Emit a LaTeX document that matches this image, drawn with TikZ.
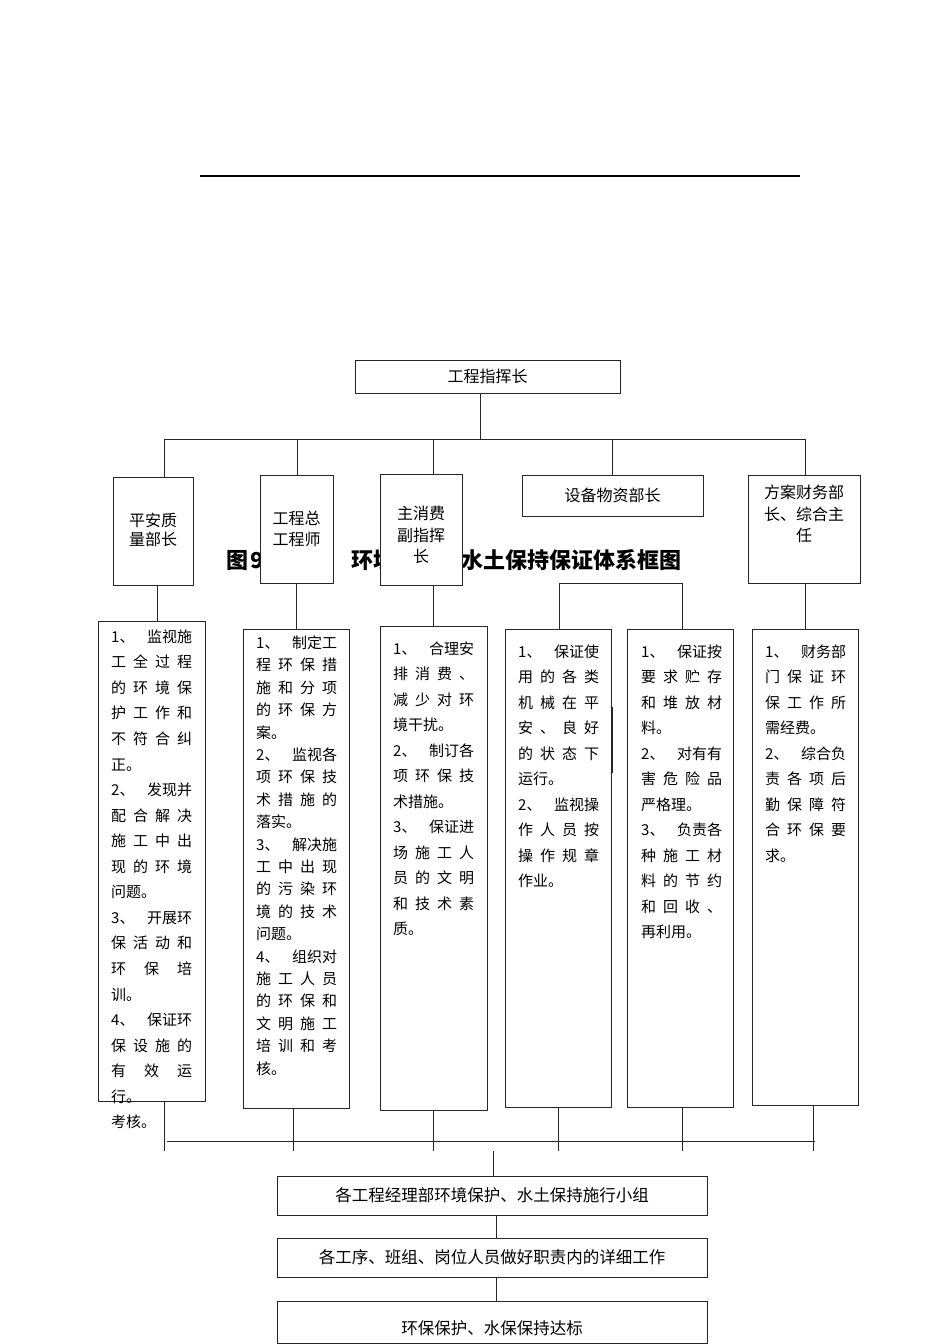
\documentclass[tikz,border=0pt]{standalone}
\usepackage{fontspec}
\setmainfont{Noto Sans CJK SC}
\usetikzlibrary{positioning,calc}
\newlength\colw
\setlength\colw{81pt}
\makeatletter
\def\spreadline#1{\makebox[\colw][l]{\spr@first#1\relax}}
\def\spr@first#1{#1\spr@rest}
\def\spr@rest#1{\ifx#1\relax\else\hfill#1\expandafter\spr@rest\fi}
\makeatother
\newcommand\numline[2]{\makebox[\colw][l]{#1\hfill#2}}
\tikzset{
  unit/.style={draw=black!85,line width=.8pt,fill=white,inner sep=0pt,outer sep=0pt,
    anchor=north west,align=center,font=\fontsize{16}{20.5}\selectfont},
  duty/.style={unit},
  dutytext/.style={anchor=north west,inner sep=0pt,text width=\colw,align=left},
  unittext/.style={align=center,inner sep=0pt,font=\fontsize{16}{21.5}\selectfont},
  link/.style={black!85,line width=.8pt},
  title/.style={font=\fontsize{22}{26}\selectfont\bfseries,inner sep=0pt}
}
\begin{document}
\begin{tikzpicture}[x=1pt,y=-1pt]
  \fill[white] (0,0) rectangle (950,1344);
  \useasboundingbox (0,0) rectangle (950,1344);
  \draw[line width=1.6pt] (200,176) -- (800,176);
  % title, partly hidden by the boxes
  \node[title,anchor=west] (ttl) at (226,560)
    {\makebox[125pt][l]{图\kern2pt 9}环境保护、水土保持保证体系框图};
  % leaders
  \node[unit,minimum width=265pt,minimum height=33pt] (chief) at (355,360) {工程指挥长};
  \node[unit,minimum width=80pt,minimum height=108pt] (b1) at (113,477) {\raisebox{3pt}{\shortstack{平安质\\[1pt]量部长}}};
  \node[unit,minimum width=73pt,minimum height=108pt] (b2) at (260,475) {工程总\\工程师};
  \node[unit,minimum width=82pt,minimum height=111pt] (b3) at (380,474) {};
  \node[below=32pt of b3.north,unittext] (b3t) {主消费\\副指挥\\长};
  \node[unit,minimum width=181pt,minimum height=41pt] (b4) at (522,475) {设备物资部长};
  \node[unit,minimum width=112pt,minimum height=108pt] (b5) at (748,475) {};
  \node[below=10pt of b5.north,unittext] (b5t) {方案财务部\\长、综合主\\任};
  % duties
  \node[duty,minimum width=107pt,minimum height=480pt] (c1) at (98,621) {};
  \node[duty,minimum width=106pt,minimum height=479pt] (c2) at (243,629) {};
  \node[duty,minimum width=107pt,minimum height=484pt] (c3) at (380,626) {};
  \node[duty,minimum width=106pt,minimum height=478pt] (c4) at (505,629) {};
  \node[duty,minimum width=106pt,minimum height=478pt] (c5) at (627,629) {};
  \node[duty,minimum width=106pt,minimum height=476pt] (c6) at (752,629) {};
  \node[dutytext,font=\fontsize{15}{25.55}\selectfont] (c1t) at ([shift={(13,8.5)}]c1.north west)
    {\numline{1、}{监视施}\\\spreadline{工全过程}\\\spreadline{的环境保}\\\spreadline{护工作和}\\
     \spreadline{不符合纠}\\正。\\\numline{2、}{发现并}\\\spreadline{配合解决}\\\spreadline{施工中出}\\
     \spreadline{现的环境}\\问题。\\\numline{3、}{开展环}\\\spreadline{保活动和}\\\spreadline{环保培}\\
     训。\\\numline{4、}{保证环}\\\spreadline{保设施的}\\\spreadline{有效运}\\行。\\考核。};
  \node[dutytext,font=\fontsize{15}{22.4}\selectfont] (c2t) at ([shift={(13,6.5)}]c2.north west)
    {\numline{1、}{制定工}\\\spreadline{程环保措}\\\spreadline{施和分项}\\\spreadline{的环保方}\\案。\\
     \numline{2、}{监视各}\\\spreadline{项环保技}\\\spreadline{术措施的}\\落实。\\
     \numline{3、}{解决施}\\\spreadline{工中出现}\\\spreadline{的污染环}\\\spreadline{境的技术}\\问题。\\
     \numline{4、}{组织对}\\\spreadline{施工人员}\\\spreadline{的环保和}\\\spreadline{文明施工}\\
     \spreadline{培训和考}\\核。};
  \node[dutytext,font=\fontsize{15}{25.5}\selectfont] (c3t) at ([shift={(13,15.5)}]c3.north west)
    {\numline{1、}{合理安}\\\spreadline{排消费、}\\\spreadline{减少对环}\\境干扰。\\
     \numline{2、}{制订各}\\\spreadline{项环保技}\\术措施。\\
     \numline{3、}{保证进}\\\spreadline{场施工人}\\\spreadline{员的文明}\\\spreadline{和技术素}\\质。};
  \node[dutytext,font=\fontsize{15}{25.5}\selectfont] (c4t) at ([shift={(13,15.5)}]c4.north west)
    {\numline{1、}{保证使}\\\spreadline{用的各类}\\\spreadline{机械在平}\\\spreadline{安、良好}\\
     \spreadline{的状态下}\\运行。\\\numline{2、}{监视操}\\\spreadline{作人员按}\\\spreadline{操作规章}\\作业。};
  \node[dutytext,font=\fontsize{15}{25.5}\selectfont] (c5t) at ([shift={(14,15.5)}]c5.north west)
    {\numline{1、}{保证按}\\\spreadline{要求贮存}\\\spreadline{和堆放材}\\料。\\
     \numline{2、}{对有有}\\\spreadline{害危险品}\\严格理。\\
     \numline{3、}{负责各}\\\spreadline{种施工材}\\\spreadline{料的节约}\\\spreadline{和回收、}\\再利用。};
  \node[dutytext,font=\fontsize{15}{25.5}\selectfont] (c6t) at ([shift={(13,15.5)}]c6.north west)
    {\numline{1、}{财务部}\\\spreadline{门保证环}\\\spreadline{保工作所}\\需经费。\\
     \numline{2、}{综合负}\\\spreadline{责各项后}\\\spreadline{勤保障符}\\\spreadline{合环保要}\\求。};
  % groups
  \node[unit,minimum width=430pt,minimum height=39pt,font=\fontsize{16.5}{20}\selectfont] (g1) at (277,1176)
    {各工程经理部环境保护、水土保持施行小组};
  \node[unit,minimum width=430pt,minimum height=39pt,font=\fontsize{16.5}{20}\selectfont] (g2) at (277,1238)
    {各工序、班组、岗位人员做好职责内的详细工作};
  \node[unit,minimum width=430pt,minimum height=42pt,font=\fontsize{16.5}{20}\selectfont] (g3) at (277,1301)
    {\raisebox{-6pt}[14.5pt][2pt]{环保保护、水保保持达标}};
  % upper links
  \coordinate (busM) at (480,439);
  \coordinate (busL) at (164,439);
  \coordinate (busR) at (805,439);
  \draw[link] (chief.south -| busM) -- (busM);
  \draw[link] (b1.north -| busL) -- (busL) -- (busR) -- (b5.north -| busR);
  \foreach \b/\x in {b2/297,b3/433,b4/612}{
    \coordinate (j-\b) at (\x,439);
    \draw[link] (\b.north -| j-\b) -- (j-\b);
  }
  \draw[link] ([xshift=4pt]b1.south) -- ([xshift=4pt]b1.south |- c1.north);
  \draw[link] (b2.south) -- (b2.south |- c2.north);
  \draw[link] (c3.north) -- (c3.north |- b3.south);
  \draw[link] (c6.north) -- (c6.north |- b5.south);
  \coordinate (brL) at (559,583);
  \coordinate (brR) at (682,583);
  \draw[link] (c4.north -| brL) -- (brL) -- (brR) -- (c5.north -| brR);
  \draw[link] ([shift={(1.5,78)}]c4.north east) -- ++(0,66);
  % lower links
  \coordinate (lowL) at (167,1141);
  \coordinate (lowR) at (815,1141);
  \draw[link] (lowL) -- (lowR);
  \foreach \c/\x in {c1/164,c2/293,c3/433,c4/558,c5/682,c6/813}{
    \coordinate (k-\c) at (\x,1151);
    \draw[link] (\c.south -| k-\c) -- (k-\c);
  }
  \coordinate (lowM) at (493,1151);
  \draw[link] (lowM) -- (g1.north -| lowM);
  \draw[link] ([xshift=4pt]g1.south) -- ([xshift=4pt]g2.north);
  \draw[link] ([xshift=4pt]g2.south) -- ([xshift=4pt]g3.north);
\end{tikzpicture}
\end{document}
